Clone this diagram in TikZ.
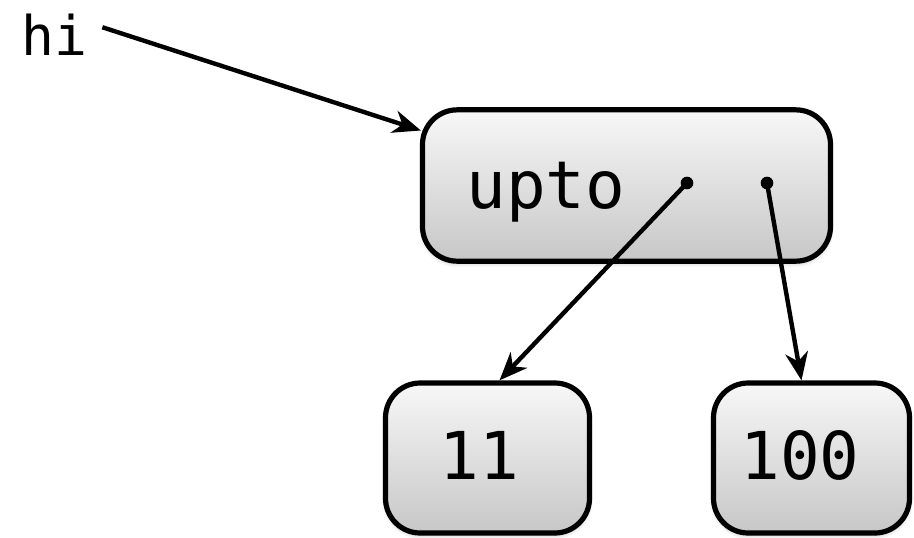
\documentclass[tikz,border=0pt]{standalone}
\usepackage{fontspec}
\setmonofont{DejaVu Sans Mono}
\usetikzlibrary{arrows.meta,calc,shadows.blur}
\tikzset{
  box/.style={draw=black, line width=3.9pt, rounded corners=26pt,
    top color=black!3, bottom color=black!22, inner sep=0pt,
    blur shadow={shadow blur steps=6, shadow xshift=0pt, shadow yshift=-2pt, shadow opacity=22, shadow blur radius=3pt}},
  lbl/.style={font=\ttfamily\fontsize{49.5}{55}\selectfont, inner sep=0pt, anchor=base},
  dotmark/.style={circle, fill=black, inner sep=0pt, minimum size=9.5pt},
  arr/.style={line width=3.3pt, -{Stealth[length=21pt, width=17pt, inset=6.5pt]}}
}
\begin{document}
\begin{tikzpicture}[x=0.75pt, y=-0.75pt]
\useasboundingbox (0,0) rectangle (914,537);
% boxes
\node[box, minimum width=306pt, minimum height=113.5pt] (upto) at (626.5,185.5) {};
\node[box, minimum width=153pt, minimum height=112.5pt] (n11) at (487.5,458) {};
\node[box, minimum width=147pt, minimum height=112.5pt] (n100) at (811.5,458) {};
% texts
\node[lbl, anchor=base west] (uptotxt) at (466,208) {upto};
\node[lbl] (t11) at (479,479) {11};
\node[lbl] (t100) at (800,479) {100};
\node[font=\ttfamily\fontsize{41}{46}\selectfont, inner sep=0pt, anchor=base west] (hi) at (21,55) {hi};
% pointer dots
\node[dotmark] (d1) at (687,183) {};
\node[dotmark] (d2) at (767,183) {};
% arrows
\draw[arr] ($(hi.east)+(15,-7)$) -- ($(upto.west)+(1,-55)$);
\draw[arr] (d1.center) -- ($(n11.north)+(12,0)$);
\draw[arr] (d2.center) -- ($(n100.north)+(-10,0)$);
\end{tikzpicture}
\end{document}
